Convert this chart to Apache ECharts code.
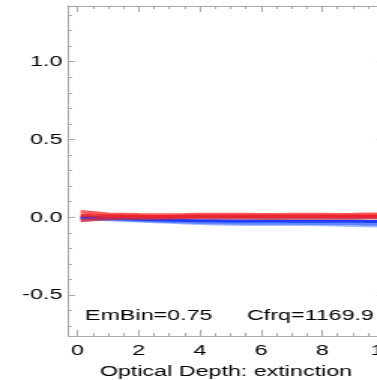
<!DOCTYPE html>
<html><head><meta charset="utf-8">
<script src="https://cdn.jsdelivr.net/npm/echarts@6/dist/echarts.min.js"></script>
<style>
html,body{margin:0;padding:0;background:#fff;overflow:hidden;}
#wrap{width:377px;height:380px;overflow:hidden;position:relative;}
#c{width:251px;height:380px;transform:scaleX(1.502);transform-origin:0 0;}
</style></head>
<body><div id="wrap"><div id="c"></div></div>
<script>
// ---- data ----
const xValues = [0.1,0.5,1,1.5,2,2.5,3,3.5,4,4.5,5,5.5,6,6.5,7,7.5,8,8.5,9,9.5,10];
const redUpper = [0.035,0.03,0.02,0.018,0.016,0.015,0.015,0.016,0.018,0.018,0.018,0.018,0.017,0.017,0.018,0.018,0.018,0.017,0.018,0.02,0.02];
const redMain  = [0.012,0.01,0.008,0.006,0.005,0.004,0.004,0.005,0.006,0.007,0.007,0.006,0.006,0.006,0.006,0.006,0.006,0.006,0.007,0.007,0.007];
const redLower = [-0.02,-0.015,-0.008,-0.005,-0.004,-0.004,-0.003,-0.002,-0.002,-0.003,-0.003,-0.003,-0.004,-0.004,-0.004,-0.004,-0.004,-0.004,-0.004,-0.003,-0.003];
const blueMain = [0.0,-0.002,-0.006,-0.01,-0.013,-0.016,-0.018,-0.02,-0.022,-0.023,-0.024,-0.024,-0.024,-0.024,-0.025,-0.025,-0.025,-0.026,-0.026,-0.027,-0.028];
const blueLight = [-0.005,-0.008,-0.012,-0.016,-0.02,-0.024,-0.027,-0.03,-0.033,-0.035,-0.037,-0.038,-0.038,-0.039,-0.039,-0.04,-0.04,-0.041,-0.042,-0.044,-0.046];
const bluePale = [-0.01,-0.012,-0.016,-0.02,-0.024,-0.028,-0.032,-0.036,-0.04,-0.043,-0.045,-0.046,-0.046,-0.046,-0.047,-0.047,-0.048,-0.05,-0.052,-0.055,-0.058];

const xMajorTicks = [0,2,4,6,8,10];
const xMinorTicks = [0.5,1,1.5,2.5,3,3.5,4.5,5,5.5,6.5,7,7.5,8.5,9,9.5];
const yMajorTicks = [-0.5,0.0,0.5,1.0];
const yMinorTicks = [-0.7,-0.6,-0.4,-0.3,-0.2,-0.1,0.1,0.2,0.3,0.4,0.6,0.7,0.8,0.9,1.1,1.2,1.3];

const xTitle = 'Optical Depth: extinction';
const note1 = 'EmBin=0.75';
const note2 = 'Cfrq=1169.9';

// ---- chart ----
const FONT = 'Liberation Sans, Arial, Helvetica, sans-serif';
const AX = '#a8a8a8';
const TXT = '#000';
const XMIN = -0.3, XMAX = 10, YMIN = -0.763, YMAX = 1.358;

function xAx(pos, ticks, len, showLine, labels) {
  return {
    type: 'value', min: XMIN, max: XMAX, position: pos,
    axisLine: {show: showLine, onZero: false, lineStyle: {color: AX, width: 1}},
    axisTick: {show: true, inside: true, length: len, customValues: ticks, lineStyle: {color: AX, width: 1}},
    axisLabel: labels ? {show: true, customValues: ticks, margin: 7, color: TXT, fontFamily: FONT, fontSize: 15.5,
      hideOverlap: false, formatter: v => String(Math.round(v))} : {show: false},
    splitLine: {show: false}, minorTick: {show: false}
  };
}
function yAx(pos, ticks, len, showLine, labels) {
  return {
    type: 'value', min: YMIN, max: YMAX, position: pos,
    axisLine: {show: showLine, onZero: false, lineStyle: {color: AX, width: 1}},
    axisTick: {show: true, inside: true, length: len, customValues: ticks, lineStyle: {color: AX, width: 1}},
    axisLabel: labels ? {show: true, customValues: ticks, margin: 4, color: TXT, fontFamily: FONT, fontSize: 15.5,
      formatter: v => v.toFixed(1)} : {show: false},
    splitLine: {show: false}, minorTick: {show: false}
  };
}

const xMain = xAx('bottom', xMajorTicks, 6, true, true);
xMain.name = xTitle;
xMain.nameLocation = 'middle';
xMain.nameGap = 26;
xMain.nameTextStyle = {color: TXT, fontFamily: FONT, fontSize: 15.5};

function line(vals, color, width, opacity) {
  return {
    type: 'line', xAxisIndex: 0, yAxisIndex: 0, symbol: 'none', silent: true,
    data: xValues.map((x, i) => [x, vals[i]]),
    lineStyle: {color: color, width: width, opacity: opacity}
  };
}

const chart = echarts.init(document.getElementById('c'));
chart.setOption({
  animation: false,
  backgroundColor: '#fff',
  grid: {left: 45.5, right: -4.3, top: 6, bottom: 44, containLabel: false, outerBoundsMode: 'none'},
  xAxis: [
    xMain,
    xAx('bottom', xMinorTicks, 3, false, false),
    xAx('top', xMajorTicks, 6, true, false),
    xAx('top', xMinorTicks, 3, false, false)
  ],
  yAxis: [
    yAx('left', yMajorTicks, 4.5, true, true),
    yAx('left', yMinorTicks, 2.5, false, false),
    yAx('right', yMajorTicks, 4.5, true, false),
    yAx('right', yMinorTicks, 2.5, false, false)
  ],
  graphic: [
    {type: 'text', left: 56.6, top: 308, silent: true,
     style: {text: note1, font: '15.5px ' + FONT, fill: TXT}},
    {type: 'text', left: 164.4, top: 308, silent: true,
     style: {text: note2, font: '15.5px ' + FONT, fill: TXT}}
  ],
  series: [
    line(bluePale, '#a6bcff', 3, 1),
    line(blueLight, '#5f84ff', 3, 1),
    line(blueMain, '#1e3cff', 3, 1),
    line(redLower, '#c83048', 3.5, 0.85),
    line(redUpper, '#ff4a4a', 3.5, 0.9),
    line(redMain, '#e8202a', 3.5, 0.9)
  ]
});
</script>
</body></html>
